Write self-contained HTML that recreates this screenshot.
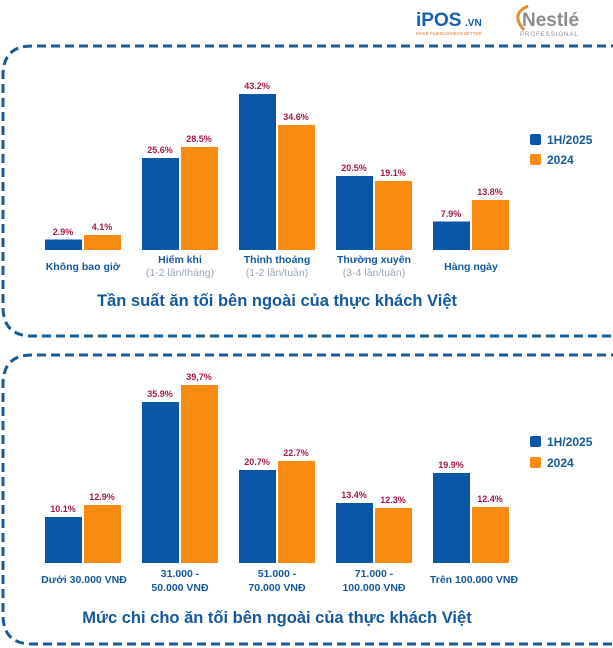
<!DOCTYPE html>
<html><head><meta charset="utf-8"><style>
html,body{margin:0;padding:0;background:#fff;}
svg{display:block;}
.v{font-family:"Liberation Sans",sans-serif;font-weight:bold;font-size:9px;fill:#a8174f;text-anchor:middle;}
.c{font-family:"Liberation Sans",sans-serif;font-weight:bold;font-size:10.5px;fill:#14589e;text-anchor:middle;}
.s{font-family:"Liberation Sans",sans-serif;font-size:10.5px;fill:#9aa8b8;text-anchor:middle;}
.t{font-family:"Liberation Sans",sans-serif;font-weight:bold;font-size:16.5px;fill:#14589e;text-anchor:middle;}
.l{font-family:"Liberation Sans",sans-serif;font-weight:bold;font-size:12px;fill:#14589e;}
</style></head><body>
<svg width="613" height="648" viewBox="0 0 613 648" xmlns="http://www.w3.org/2000/svg">
<text x="416" y="26" font-family="Liberation Sans,sans-serif" font-weight="bold" font-size="19" fill="#1560b0">iPOS</text>
<text x="465" y="26" font-family="Liberation Sans,sans-serif" font-weight="bold" font-size="10" fill="#1560b0">.VN</text>
<text x="416" y="35" font-family="Liberation Sans,sans-serif" font-size="4.5" fill="#e07a2a">MAKE F&amp;B BUSINESS BETTER</text>
<path d="M524 30 Q510 14 528 6" stroke="#e0902a" stroke-width="3" fill="none"/>
<text x="522" y="26" font-family="Liberation Sans,sans-serif" font-weight="bold" font-size="19" fill="#8d8d8d">Nestlé</text>
<text x="520" y="36" font-family="Liberation Sans,sans-serif" font-size="6" fill="#8d8d8d" letter-spacing="1">PROFESSIONAL</text>
<path d="M620 46 H32 Q3 46 3 75 V307 Q3 336 32 336 H620" stroke="#1a5a95" stroke-width="3" fill="none" stroke-dasharray="9 5"/>
<path d="M620 355 H32 Q3 355 3 384 V615 Q3 644 32 644 H620" stroke="#1a5a95" stroke-width="3" fill="none" stroke-dasharray="9 5"/>
<g>
<rect x="45" y="239.5" width="37" height="10.5" fill="#0a57a8"/><rect x="84" y="235" width="37" height="15" fill="#f98a12"/>
<rect x="142" y="158" width="37" height="92" fill="#0a57a8"/><rect x="181" y="147" width="37" height="103" fill="#f98a12"/>
<rect x="239" y="94" width="37" height="156" fill="#0a57a8"/><rect x="278" y="125" width="37" height="125" fill="#f98a12"/>
<rect x="336" y="176" width="37" height="74" fill="#0a57a8"/><rect x="375" y="181" width="37" height="69" fill="#f98a12"/>
<rect x="433" y="221.5" width="37" height="28.5" fill="#0a57a8"/><rect x="472" y="200" width="37" height="50" fill="#f98a12"/>
<text class="v" x="63" y="235">2.9%</text><text class="v" x="102" y="230">4.1%</text>
<text class="v" x="160" y="153">25.6%</text><text class="v" x="199" y="142">28.5%</text>
<text class="v" x="257" y="89">43.2%</text><text class="v" x="296" y="120">34.6%</text>
<text class="v" x="354" y="171">20.5%</text><text class="v" x="393" y="176">19.1%</text>
<text class="v" x="451" y="217">7.9%</text><text class="v" x="490" y="195">13.8%</text>
<text class="c" x="83" y="270">Không bao giờ</text>
<text class="c" x="180" y="263">Hiếm khi</text><text class="s" x="180" y="276">(1-2 lần/tháng)</text>
<text class="c" x="277" y="263">Thỉnh thoảng</text><text class="s" x="277" y="276">(1-2 lần/tuần)</text>
<text class="c" x="374" y="263">Thường xuyên</text><text class="s" x="374" y="276">(3-4 lần/tuần)</text>
<text class="c" x="471" y="270">Hàng ngày</text>
<text class="t" x="277" y="306">Tần suất ăn tối bên ngoài của thực khách Việt</text>
<rect x="530" y="134" width="11" height="11" rx="2" fill="#0a57a8"/><text class="l" x="547" y="144">1H/2025</text>
<rect x="530" y="154" width="11" height="11" rx="2" fill="#f98a12"/><text class="l" x="547" y="164">2024</text>
</g>
<g>
<rect x="45" y="517" width="37" height="46" fill="#0a57a8"/><rect x="84" y="505" width="37" height="58" fill="#f98a12"/>
<rect x="142" y="402" width="37" height="161" fill="#0a57a8"/><rect x="181" y="385" width="37" height="178" fill="#f98a12"/>
<rect x="239" y="470" width="37" height="93" fill="#0a57a8"/><rect x="278" y="461" width="37" height="102" fill="#f98a12"/>
<rect x="336" y="503" width="37" height="60" fill="#0a57a8"/><rect x="375" y="508" width="37" height="55" fill="#f98a12"/>
<rect x="433" y="473" width="37" height="90" fill="#0a57a8"/><rect x="472" y="507" width="37" height="56" fill="#f98a12"/>
<text class="v" x="63" y="512">10.1%</text><text class="v" x="102" y="500">12.9%</text>
<text class="v" x="160" y="397">35.9%</text><text class="v" x="199" y="380">39,7%</text>
<text class="v" x="257" y="465">20.7%</text><text class="v" x="296" y="456">22.7%</text>
<text class="v" x="354" y="498">13.4%</text><text class="v" x="393" y="503">12.3%</text>
<text class="v" x="451" y="468">19.9%</text><text class="v" x="490" y="502">12.4%</text>
<text class="c" x="84" y="583">Dưới 30.000 VNĐ</text>
<text class="c" x="180" y="577">31.000 -</text><text class="c" x="180" y="591">50.000 VNĐ</text>
<text class="c" x="277" y="577">51.000 -</text><text class="c" x="277" y="591">70.000 VNĐ</text>
<text class="c" x="374" y="577">71.000 -</text><text class="c" x="374" y="591">100.000 VNĐ</text>
<text class="c" x="474" y="583">Trên 100.000 VNĐ</text>
<text class="t" x="277" y="623">Mức chi cho ăn tối bên ngoài của thực khách Việt</text>
<rect x="530" y="436" width="11" height="11" rx="2" fill="#0a57a8"/><text class="l" x="547" y="446">1H/2025</text>
<rect x="530" y="457" width="11" height="11" rx="2" fill="#f98a12"/><text class="l" x="547" y="467">2024</text>
</g>
</svg>
</body></html>
